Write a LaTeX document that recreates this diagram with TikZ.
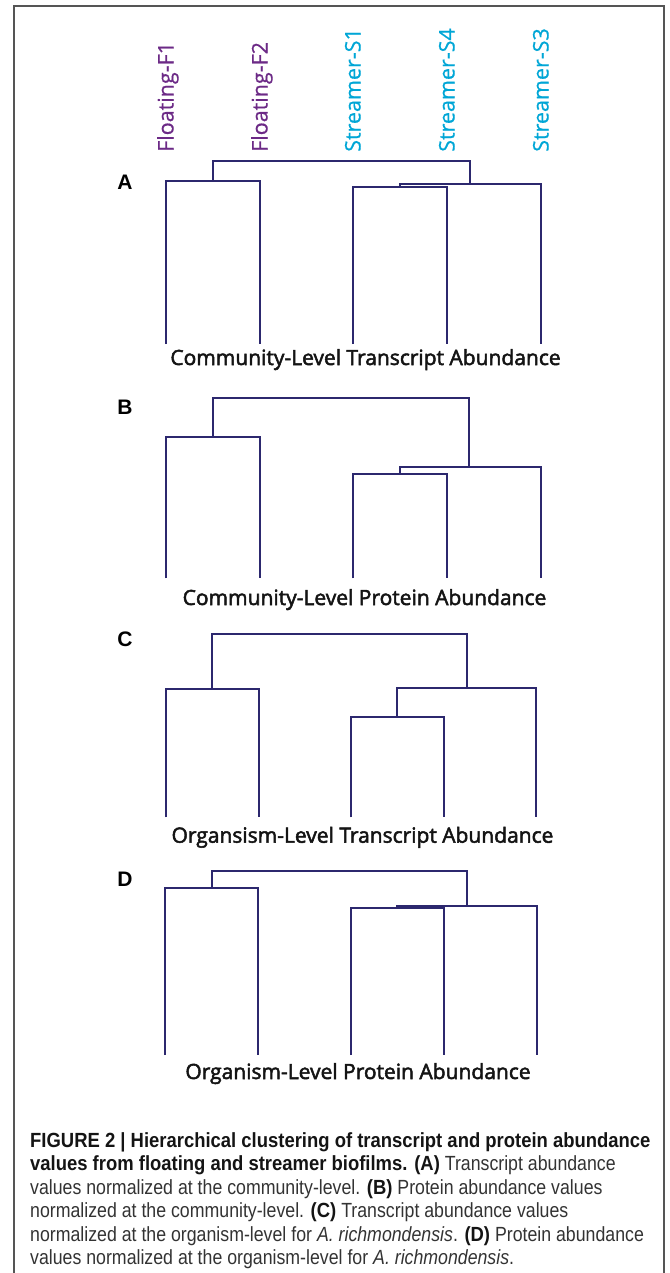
\documentclass[tikz,border=0pt]{standalone}
\usepackage{fontspec}
\setmainfont{Open Sans}
\newfontfamily\lblfont[FakeBold=0.6]{Open Sans}
\newfontfamily\ttlfont[FakeBold=2.4]{Open Sans}
\newfontfamily\capfont[FakeStretch=0.865]{Liberation Sans}
\newfontfamily\capbfont[FakeStretch=0.9]{Liberation Sans}
\newfontfamily\panfont{Liberation Sans}
\newcommand\capb[1]{{\capbfont\bfseries\color{black!92}#1}}
\definecolor{dendc}{RGB}{44,40,110}
\definecolor{floatc}{RGB}{108,42,134}
\definecolor{streamc}{RGB}{0,166,214}
\definecolor{framec}{RGB}{85,85,85}
\tikzset{
  dend/.style={draw=dendc, line width=2.1pt},
  framebox/.style={draw=framec, line width=1.3pt},
  leaflbl/.style={rotate=90, anchor=base west, inner sep=0pt, font=\lblfont\fontsize{21.5}{21.5}\selectfont},
  ttl/.style={anchor=base, inner sep=0pt, font=\ttlfont\fontsize{21}{21}\selectfont, text=black!92},
  panel/.style={anchor=base, inner sep=0pt, font=\panfont\bfseries\fontsize{21}{21}\selectfont},
  capline/.style={anchor=base west, inner sep=0pt, font=\capfont\fontsize{20.5}{20.5}\selectfont, text=black!80}
}
\begin{document}
\begin{tikzpicture}[x=1pt,y=-1pt]
\useasboundingbox (0,0) rectangle (669,1273);
% frame
\coordinate (fbl) at (14,1273);
\coordinate (ftl) at (14,6);
\coordinate (ftr) at (664,6);
\coordinate (fbr) at (664,1273);
\draw[framebox] (fbl) -- (ftl) -- (ftr) -- (fbr);

% leaf labels
\node[leaflbl, text=floatc] (lF1) at (173.5,152) {Floating-F1};
\node[leaflbl, text=floatc] (lF2) at (267.5,152) {Floating-F2};
\node[leaflbl, text=streamc] (lS1) at (360.5,152) {Streamer-S1};
\node[leaflbl, text=streamc] (lS4) at (454.5,152) {Streamer-S4};
\node[leaflbl, text=streamc] (lS3) at (548.5,152) {Streamer-S3};

% ---------- Panel A ----------
\node[panel] (pA) at (125,189.3) {A};
\coordinate (A1) at (166,344);
\coordinate (A2) at (260,344);
\coordinate (A3) at (353,344);
\coordinate (A4) at (447,344);
\coordinate (A5) at (541,344);
\coordinate (AF) at (213,181);
\coordinate (AS14) at (400,186.7);
\coordinate (AS) at (470,184.3);
\coordinate (AT) at (341.5,160.7);
\draw[dend] (A1) |- (AF) -| (A2);
\draw[dend] (A3) |- (AS14) -| (A4);
\draw[dend] (AS14) |- (AS) -| (A5);
\draw[dend] (AF) |- (AT) -| (AS);
\node[ttl] (tA) at (365.5,365) {Community-Level Transcript Abundance};

% ---------- Panel B ----------
\node[panel] (pB) at (125,414.3) {B};
\coordinate (B1) at (166,578.3);
\coordinate (B2) at (260,578.3);
\coordinate (B3) at (353,578.3);
\coordinate (B4) at (447,578.3);
\coordinate (B5) at (541,578.3);
\coordinate (BF) at (213,437.3);
\coordinate (BS14) at (400,474.3);
\coordinate (BS) at (469.3,467);
\coordinate (BT) at (341,398.3);
\draw[dend] (B1) |- (BF) -| (B2);
\draw[dend] (B3) |- (BS14) -| (B4);
\draw[dend] (BS14) |- (BS) -| (B5);
\draw[dend] (BF) |- (BT) -| (BS);
\node[ttl] (tB) at (364.5,605) {Community-Level Protein Abundance};

% ---------- Panel C ----------
\node[panel] (pC) at (125,646.7) {C};
\coordinate (C1) at (166,817.3);
\coordinate (C2) at (258.7,817.3);
\coordinate (C3) at (350.7,817.3);
\coordinate (C4) at (444,817.3);
\coordinate (C5) at (536,817.3);
\coordinate (CF) at (212.4,689.3);
\coordinate (CS14) at (397.4,717.3);
\coordinate (CS) at (466.7,687.7);
\coordinate (CT) at (339.5,634);
\draw[dend] (C1) |- (CF) -| (C2);
\draw[dend] (C3) |- (CS14) -| (C4);
\draw[dend] (CS14) |- (CS) -| (C5);
\draw[dend] (CF) |- (CT) -| (CS);
\node[ttl] (tC) at (362.5,842.7) {Organsism-Level Transcript Abundance};

% ---------- Panel D ----------
\node[panel] (pD) at (125,886) {D};
\coordinate (D1) at (165.3,1055);
\coordinate (D2) at (258,1055);
\coordinate (D3) at (350.7,1055);
\coordinate (D4) at (444,1055);
\coordinate (D5) at (536.7,1055);
\coordinate (DF) at (211.7,887.7);
\coordinate (DS14) at (397.4,908.3);
\coordinate (DS) at (466.7,906.3);
\coordinate (DT) at (339,871);
\draw[dend] (D1) |- (DF) -| (D2);
\draw[dend] (D3) |- (DS14) -| (D4);
\draw[dend] (DS14) |- (DS) -| (D5);
\draw[dend] (DF) |- (DT) -| (DS);
\node[ttl] (tD) at (358,1079) {Organism-Level Protein Abundance};

% ---------- Caption ----------
\node[capline] (cap1) at (30,1147) {\capb{FIGURE 2 | Hierarchical clustering of transcript and protein abundance}};
\node[capline] (cap2) at (30,1170.5) {\capb{values from floating and streamer biofilms. (A)} Transcript abundance};
\node[capline] (cap3) at (30,1194) {values normalized at the community-level. \capb{(B)} Protein abundance values};
\node[capline] (cap4) at (30,1217.5) {normalized at the community-level. \capb{(C)} Transcript abundance values};
\node[capline] (cap5) at (30,1241) {normalized at the organism-level for \textit{A. richmondensis}. \capb{(D)} Protein abundance};
\node[capline] (cap6) at (30,1264.5) {values normalized at the organism-level for \textit{A. richmondensis}.};
\end{tikzpicture}
\end{document}
